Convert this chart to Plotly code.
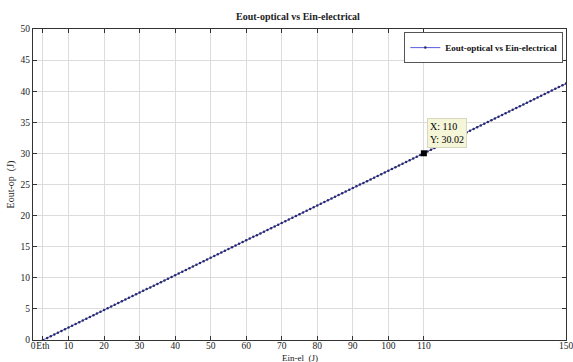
import plotly.graph_objects as go

# Data
x_values = [2.8] + list(range(4, 151))
y_values = [
    0.00, 0.34, 0.62, 0.90, 1.18, 1.46, 1.74, 2.02, 2.30, 2.58, 2.86, 3.14, 3.42, 3.70, 3.98, 4.26, 4.54,
    4.82, 5.10, 5.38, 5.66, 5.94, 6.22, 6.50, 6.78, 7.06, 7.34, 7.62, 7.90, 8.18, 8.46, 8.74, 9.02,
    9.30, 9.58, 9.86, 10.14, 10.42, 10.70, 10.98, 11.26, 11.54, 11.82, 12.10, 12.38, 12.66, 12.94,
    13.22, 13.50, 13.78, 14.06, 14.34, 14.62, 14.90, 15.18, 15.46, 15.74, 16.02, 16.30, 16.58, 16.86,
    17.14, 17.42, 17.70, 17.98, 18.26, 18.54, 18.82, 19.10, 19.38, 19.66, 19.94, 20.22, 20.50, 20.78,
    21.06, 21.34, 21.62, 21.90, 22.18, 22.46, 22.74, 23.02, 23.30, 23.58, 23.86, 24.14, 24.42, 24.70,
    24.98, 25.26, 25.54, 25.82, 26.10, 26.38, 26.66, 26.94, 27.22, 27.50, 27.78, 28.06, 28.34, 28.62,
    28.90, 29.18, 29.46, 29.74, 30.02, 30.30, 30.58, 30.86, 31.14, 31.42, 31.70, 31.98, 32.26, 32.54,
    32.82, 33.10, 33.38, 33.66, 33.94, 34.22, 34.50, 34.78, 35.06, 35.34, 35.62, 35.90, 36.18, 36.46,
    36.74, 37.02, 37.30, 37.58, 37.86, 38.14, 38.42, 38.70, 38.98, 39.26, 39.54, 39.82, 40.10, 40.38,
    40.66, 40.94, 41.22,
]
x_tickvals = [0, 2.8, 10, 20, 30, 40, 50, 60, 70, 80, 90, 100, 110, 150]
x_ticktext = ["0", "Eth", "10", "20", "30", "40", "50", "60", "70", "80", "90", "100", "110", "150"]
y_tickvals = [0, 5, 10, 15, 20, 25, 30, 35, 40, 45, 50]
tip_x = 110
tip_y = 30.02

FONT = "Liberation Serif"

fig = go.Figure()
fig.add_trace(go.Scatter(
    x=x_values, y=y_values, mode="lines+markers",
    name="<b>Eout-optical vs Ein-electrical</b>",
    line=dict(color="#5a5ae0", width=1),
    marker=dict(color="#2a2a60", size=2.5, symbol="circle"),
))
fig.add_trace(go.Scatter(
    x=[tip_x], y=[tip_y], mode="markers", showlegend=False,
    marker=dict(color="black", size=6, symbol="square"),
))
fig.add_annotation(
    x=tip_x, y=tip_y, xref="x", yref="y",
    text=f"X: {tip_x}<br>Y: {tip_y:.2f}",
    showarrow=False, xanchor="left", yanchor="bottom", xshift=3, yshift=5,
    align="left", bgcolor="#f5f5d8", bordercolor="#d8d8c0", borderwidth=1, borderpad=2,
    font=dict(family=FONT, size=10, color="black"),
)
# x-axis title placed just below the tick labels
fig.add_annotation(
    x=0.5, y=0, xref="paper", yref="paper", text="Ein-el  (J)",
    showarrow=False, xanchor="center", yanchor="middle", yshift=-18,
    font=dict(family=FONT, size=9, color="#222222"),
)

axis_common = dict(
    showline=True, linecolor="#333333", linewidth=1, mirror="allticks",
    ticks="inside", ticklen=4, tickcolor="#333333",
    showgrid=True, gridcolor="#dcdcdc", gridwidth=1, zeroline=False,
    tickfont=dict(family=FONT, size=9.5, color="#222222"),
    tickangle=0, ticklabeloverflow="allow",
)

fig.update_xaxes(
    range=[0, 150], tickmode="array", tickvals=x_tickvals, ticktext=x_ticktext,
    ticklabelstandoff=-3, automargin=False,
    **axis_common,
)
fig.update_yaxes(
    range=[0, 50], tickmode="array", tickvals=y_tickvals,
    title=dict(text="Eout-op  (J)", font=dict(family=FONT, size=10, color="#222222"), standoff=4),
    **axis_common,
)

fig.update_layout(
    width=573, height=362,
    margin=dict(l=33, r=7, t=29, b=22),
    paper_bgcolor="white", plot_bgcolor="white",
    title=dict(text="<b>Eout-optical vs Ein-electrical</b>", x=0.52, xanchor="center", y=0.955, yanchor="middle",
               font=dict(family=FONT, size=10, color="#222222")),
    legend=dict(x=0.995, y=0.99, xanchor="right", yanchor="top", itemwidth=30,
                bgcolor="white", bordercolor="#555555", borderwidth=1,
                font=dict(family=FONT, size=9, color="#111111")),
    showlegend=True,
)

fig.write_html("out.html")
